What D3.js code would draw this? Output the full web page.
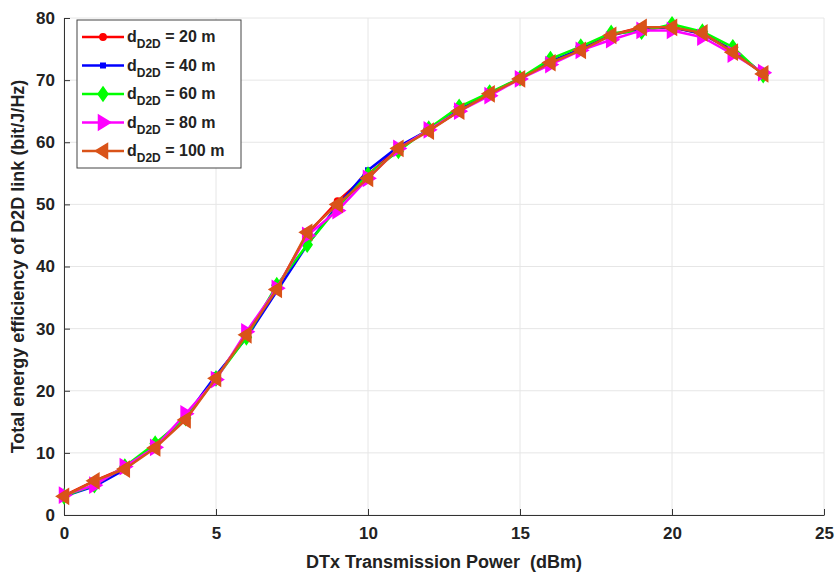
<!DOCTYPE html>
<html>
<head>
<meta charset="utf-8">
<script src="https://cdn.jsdelivr.net/npm/d3@7"></script>
<style>
  body { margin: 0; background: #fff; }
  text { font-family: "Liberation Sans Narrow", "Liberation Sans", Arial, sans-serif; font-weight: bold; }
</style>
</head>
<body>
<div id="chart"></div>
<script>
// transmission power (dBm)
var power = d3.range(0, 24);

// energy efficiency (bit/J/Hz) per D2D distance
var d20 = [3.1, 5.5, 7.6, 11.0, 15.6, 22.2, 28.8, 36.5, 45.2, 50.5, 54.8, 59.0, 62.0, 65.0, 67.8, 70.3, 72.8, 75.0, 77.3, 78.5, 78.5, 77.5, 74.8, 71.0];
var d40 = [3.0, 4.6, 7.3, 11.3, 15.8, 22.5, 28.5, 36.0, 43.5, 49.8, 55.5, 59.3, 62.0, 65.2, 67.9, 70.2, 73.0, 75.0, 77.2, 78.3, 78.5, 77.4, 74.8, 71.0];
var d60 = [3.0, 4.8, 7.8, 11.5, 15.6, 22.0, 28.6, 37.0, 43.5, 49.5, 54.8, 58.6, 62.2, 65.7, 68.0, 70.3, 73.4, 75.4, 77.6, 77.8, 79.0, 77.8, 75.3, 70.8];
var d80 = [3.2, 4.8, 7.8, 10.9, 16.3, 21.8, 29.5, 36.5, 45.0, 49.0, 54.2, 59.0, 62.0, 65.0, 67.5, 70.2, 72.5, 74.8, 76.5, 78.0, 78.0, 76.9, 74.2, 71.2];
var d100 = [3.0, 5.5, 7.4, 10.8, 15.3, 22.0, 29.0, 36.3, 45.5, 50.0, 54.2, 59.0, 61.8, 65.0, 67.8, 70.2, 72.8, 74.8, 77.2, 78.5, 78.5, 77.6, 74.5, 71.0];

var distances = ["20", "40", "60", "80", "100"];
var xTicks = [0, 5, 10, 15, 20, 25];
var yTicks = [0, 10, 20, 30, 40, 50, 60, 70, 80];

var series = [
  { name: distances[0], values: d20, color: "#ff0000", marker: "circle" },
  { name: distances[1], values: d40, color: "#0000ff", marker: "square" },
  { name: distances[2], values: d60, color: "#00ff00", marker: "diamond" },
  { name: distances[3], values: d80, color: "#ff00ff", marker: "right" },
  { name: distances[4], values: d100, color: "#d95319", marker: "left" }
];

var margin = { top: 18, right: 13, bottom: 57, left: 64 },
    width = 837 - margin.left - margin.right,
    height = 572 - margin.top - margin.bottom;

var svg = d3.select("#chart").append("svg")
    .attr("width", 837).attr("height", 572);
var g = svg.append("g")
    .attr("transform", "translate(" + margin.left + "," + margin.top + ")");

var x = d3.scaleLinear().domain([0, 25]).range([0, width]);
var y = d3.scaleLinear().domain([0, 80]).range([height, 0]);

// grid
g.append("g").selectAll("line").data(xTicks).enter().append("line")
    .attr("x1", d => x(d)).attr("x2", d => x(d))
    .attr("y1", 0).attr("y2", height)
    .attr("stroke", "#e6e6e6").attr("stroke-width", 1);
g.append("g").selectAll("line").data(yTicks).enter().append("line")
    .attr("y1", d => y(d)).attr("y2", d => y(d))
    .attr("x1", 0).attr("x2", width)
    .attr("stroke", "#e6e6e6").attr("stroke-width", 1);

// axes
var xAxis = g.append("g")
    .attr("transform", "translate(0," + height + ")")
    .call(d3.axisBottom(x).tickValues(xTicks).tickSizeInner(-6).tickSizeOuter(0).tickPadding(12));
var yAxis = g.append("g")
    .call(d3.axisLeft(y).tickValues(yTicks).tickSizeInner(-6).tickSizeOuter(0).tickPadding(9));
[xAxis, yAxis].forEach(function (a) {
  a.select(".domain").attr("stroke", "#333").attr("stroke-width", 1);
  a.selectAll(".tick line").attr("stroke", "#333");
  a.selectAll(".tick text").attr("fill", "#222").style("font-size", "17px")
    .style("font-family", "'Liberation Sans Narrow', 'Liberation Sans', Arial, sans-serif").style("font-weight", "bold");
});

// marker shapes
function markerPath(type, s) {
  if (type === "circle") return d3.symbol().type(d3.symbolCircle).size(s * 7)();
  if (type === "square") return d3.symbol().type(d3.symbolSquare).size(s * 5)();
  if (type === "diamond") return "M0," + (-s) + "L" + (s * 0.7) + ",0L0," + s + "L" + (-s * 0.7) + ",0Z";
  if (type === "right") return "M" + s + ",0L" + (-s * 0.6) + "," + (-s) + "L" + (-s * 0.6) + "," + s + "Z";
  return "M" + (-s) + ",0L" + (s * 0.6) + "," + (-s) + "L" + (s * 0.6) + "," + s + "Z";
}
var markerSize = { circle: 4.5, square: 4, diamond: 7, right: 7.5, left: 7.5 };

var line = d3.line().x((d, i) => x(power[i])).y(d => y(d));

series.forEach(function (s) {
  g.append("path").datum(s.values)
    .attr("d", line)
    .attr("fill", "none")
    .attr("stroke", s.color)
    .attr("stroke-width", 2.5)
    .attr("stroke-linejoin", "round");
  g.append("g").selectAll("path").data(s.values).enter().append("path")
    .attr("d", markerPath(s.marker, markerSize[s.marker]))
    .attr("transform", (d, i) => "translate(" + x(power[i]) + "," + y(d) + ")")
    .attr("fill", s.color)
    .attr("stroke", s.color)
    .attr("stroke-width", 1.5);
});

// axis titles
svg.append("text")
    .attr("x", margin.left + width / 2).attr("y", 568)
    .attr("text-anchor", "middle")
    .style("font-size", "18px").style("white-space", "pre").attr("fill", "#222")
    .text("DTx Transmission Power\u00a0\u00a0(dBm)");
svg.append("text")
    .attr("transform", "translate(24," + (margin.top + height / 2) + ") rotate(-90)")
    .attr("text-anchor", "middle")
    .style("font-size", "18px").attr("fill", "#222")
    .text("Total energy efficiency of D2D link (bit/J/Hz)");

// legend
var legend = svg.append("g").attr("transform", "translate(77,20)");
legend.append("rect")
    .attr("width", 164).attr("height", 148)
    .attr("fill", "#fff").attr("stroke", "#444").attr("stroke-width", 1);
series.forEach(function (s, i) {
  var ly = 17 + i * 28.5;
  var row = legend.append("g").attr("transform", "translate(0," + ly + ")");
  row.append("line").attr("x1", 5).attr("x2", 47).attr("y1", 0).attr("y2", 0)
    .attr("stroke", s.color).attr("stroke-width", 2.5);
  row.append("path").attr("d", markerPath(s.marker, markerSize[s.marker]))
    .attr("transform", "translate(26,0)")
    .attr("fill", s.color).attr("stroke", s.color).attr("stroke-width", 1.5);
  var t = row.append("text").attr("x", 50).attr("y", 5)
    .style("font-size", "16px").style("font-family", "'Liberation Sans', Arial, sans-serif").attr("fill", "#222");
  t.append("tspan").text("d");
  t.append("tspan").attr("dy", 6).style("font-size", "12px").text("D2D");
  t.append("tspan").attr("dy", -6).text(" = " + s.name + " m");
});
</script>
</body>
</html>
